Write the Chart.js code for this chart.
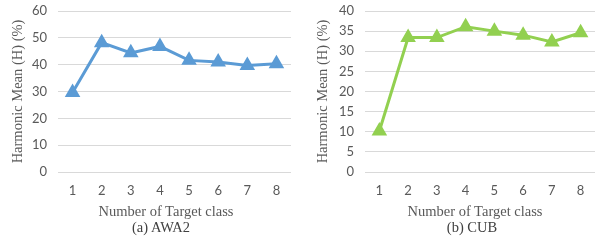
<!DOCTYPE html>
<html>
<head>
<meta charset="utf-8">
<script src="https://cdn.jsdelivr.net/npm/chart.js@4.4.0/dist/chart.umd.min.js"></script>
<style>
  body { margin: 0; background: #fff; width: 604px; height: 241px; position: relative; overflow: hidden; }
  .box { position: absolute; top: 0; height: 241px; }
  .txt { position: absolute; font-family: "Liberation Serif", serif; font-size: 14.5px; color: #404040; text-align: center; white-space: nowrap; }
</style>
</head>
<body>
<div class="box" style="left:0;width:300px"><canvas id="awa"></canvas></div>
<div class="box" style="left:300px;width:304px"><canvas id="cub"></canvas></div>
<div class="txt" style="top:203px;left:0;width:332px;color:#595959">Number of Target class</div>
<div class="txt" style="top:203px;left:300px;width:350px;color:#595959">Number of Target class</div>
<div class="txt" style="top:219px;left:0;width:322px">(a) AWA2</div>
<div class="txt" style="top:219px;left:300px;width:344px">(b) CUB</div>
<script>
const targetClasses = ["1", "2", "3", "4", "5", "6", "7", "8"];
const awa2H = [29.6, 48.2, 44.4, 46.8, 41.6, 41.0, 39.7, 40.3];
const cubH = [10.2, 33.4, 33.4, 36.1, 35.0, 34.0, 32.3, 34.6];

const tickColor = "#595959";
const gridColor = "#d9d9d9";

function makeChart(id, values, color, yMax, yStep, yWidth, titlePad, padRight) {
    new Chart(document.getElementById(id), {
        type: "line",
        data: {
            labels: targetClasses,
            datasets: [{
                data: values,
                borderColor: color,
                backgroundColor: color,
                borderWidth: 3,
                pointStyle: "triangle",
                pointRadius: 6,
                pointHoverRadius: 6,
                tension: 0
            }]
        },
        options: {
            responsive: false,
            animation: false,
            devicePixelRatio: 1,
            layout: { padding: { top: 11, right: padRight, bottom: 0, left: 0 } },
            plugins: { legend: { display: false }, tooltip: { enabled: false } },
            scales: {
                x: {
                    offset: true,
                    afterFit: s => { s.height = 69; },
                    grid: { display: false, drawTicks: false },
                    border: { display: false },
                    ticks: { color: tickColor, font: { family: "Lato", size: 13 }, padding: 11 }
                },
                y: {
                    min: 0,
                    max: yMax,
                    afterFit: s => { s.width = yWidth; s.paddingTop = 0; s.paddingBottom = 0; },
                    grid: { color: gridColor, drawTicks: false },
                    border: { display: false },
                    ticks: { stepSize: yStep, autoSkip: false, color: tickColor, font: { family: "Lato", size: 13 }, padding: 11 },
                    title: {
                        display: true,
                        text: "Harmonic Mean (H) (%)",
                        color: tickColor,
                        font: { family: "Liberation Serif", size: 14.5 },
                        padding: { top: titlePad, bottom: 0 }
                    }
                }
            }
        }
    });
}

const c1 = document.getElementById("awa"); c1.width = 300; c1.height = 241;
const c2 = document.getElementById("cub"); c2.width = 304; c2.height = 241;
makeChart("awa", awa2H, "#5b9bd5", 60, 10, 58, 9, 3);
makeChart("cub", cubH, "#92d050", 40, 5, 65, 14, 0);
</script>
</body>
</html>
